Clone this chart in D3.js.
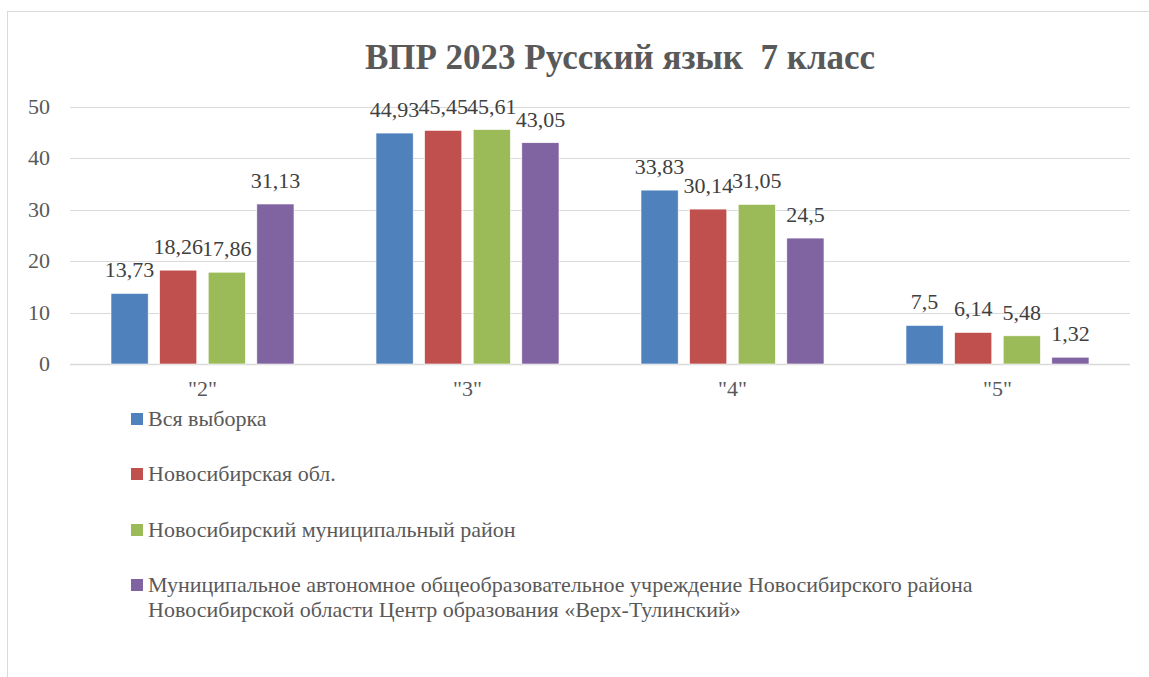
<!DOCTYPE html>
<html>
<head>
<meta charset="utf-8">
<script src="https://cdn.jsdelivr.net/npm/d3@7"></script>
<style>
  body { margin: 0; background: #fff; }
</style>
</head>
<body>
<div id="chart"></div>
<script>
// categories (marks) and series
const categories = ['"2"', '"3"', '"4"', '"5"'];
const seriesNames = [
  "Вся выборка",
  "Новосибирская обл.",
  "Новосибирский муниципальный район",
  "Муниципальное автономное общеобразовательное учреждение Новосибирского района|Новосибирской области Центр образования «Верх-Тулинский»"
];
const vsyaVyborka = [13.73, 44.93, 33.83, 7.5];
const novosibObl = [18.26, 45.45, 30.14, 6.14];
const novosibRayon = [17.86, 45.61, 31.05, 5.48];
const verhTulinsky = [31.13, 43.05, 24.5, 1.32];
const yTicks = [0, 10, 20, 30, 40, 50];
const colors = ["#4f81bd", "#c0504d", "#9bbb59", "#8064a2"];

const series = [vsyaVyborka, novosibObl, novosibRayon, verhTulinsky];

const W = 1149, H = 677;
const FONT = "Liberation Serif";
const FS = "22px";
const fmt = v => String(v).replace(".", ",");

const svg = d3.select("#chart").append("svg")
  .attr("width", W).attr("height", H);

// outer chart frame
svg.append("rect")
  .attr("x", 7.5).attr("y", 11.5)
  .attr("width", 1160).attr("height", 700)
  .attr("fill", "#fff").attr("stroke", "#d9d9d9");

// title
svg.append("text")
  .attr("x", 620).attr("y", 69)
  .attr("text-anchor", "middle")
  .attr("font-family", FONT)
  .attr("font-size", "35px").attr("font-weight", "bold")
  .attr("fill", "#595959")
  .attr("xml:space", "preserve")
  .style("white-space", "pre")
  .text("ВПР 2023 Русский язык  7 класс");

const plot = { left: 70, right: 1130, top: 107, bottom: 364 };

const y = d3.scaleLinear().domain([0, 50]).range([plot.bottom, plot.top]);
const x0 = d3.scaleBand().domain(categories).range([plot.left, plot.right]);
const x1 = d3.scaleBand().domain(d3.range(series.length))
  .range([41, x0.bandwidth() - 41]).paddingInner(0.235);

// gridlines
svg.append("g").selectAll("line")
  .data(yTicks).join("line")
  .attr("x1", plot.left).attr("x2", plot.right)
  .attr("y1", d => Math.round(y(d)) + 0.5).attr("y2", d => Math.round(y(d)) + 0.5)
  .attr("stroke", "#d9d9d9").attr("stroke-width", d => d === 0 ? 1.5 : 1.2);

// y tick labels
svg.append("g").selectAll("text")
  .data(yTicks).join("text")
  .attr("x", 50).attr("y", d => y(d) + 7)
  .attr("text-anchor", "end")
  .attr("font-family", FONT)
  .attr("font-size", FS).attr("fill", "#595959")
  .text(d => d);

// category labels
svg.append("g").selectAll("text")
  .data(categories).join("text")
  .attr("x", d => x0(d) + x0.bandwidth() / 2)
  .attr("y", 396)
  .attr("text-anchor", "middle")
  .attr("font-family", FONT)
  .attr("font-size", FS).attr("fill", "#595959")
  .text(d => d);

// bars
const groups = svg.append("g").selectAll("g")
  .data(categories).join("g")
  .attr("transform", d => `translate(${x0(d)},0)`);

const cells = groups.selectAll("g")
  .data((c, ci) => series.map((s, si) => ({ si, v: s[ci] })))
  .join("g");

cells.append("rect")
  .attr("x", d => x1(d.si))
  .attr("width", x1.bandwidth())
  .attr("y", d => y(d.v))
  .attr("height", d => y(0) - y(d.v))
  .attr("fill", d => colors[d.si])
  .attr("stroke", "#fff").attr("stroke-width", 0.6);

cells.append("text")
  .attr("x", d => x1(d.si) + x1.bandwidth() / 2)
  .attr("y", d => y(d.v) - 16)
  .attr("text-anchor", "middle")
  .attr("font-family", FONT)
  .attr("font-size", FS).attr("fill", "#404040")
  .text(d => fmt(d.v));

// legend
const legendY = [419, 474, 530, 585];
const legend = svg.append("g").selectAll("g")
  .data(seriesNames).join("g")
  .attr("transform", (d, i) => `translate(131,${legendY[i]})`);

legend.append("rect")
  .attr("x", 0).attr("y", -6)
  .attr("width", 12).attr("height", 12)
  .attr("fill", (d, i) => colors[i]);

legend.each(function(d) {
  d.split("|").forEach((line, i) => {
    d3.select(this).append("text")
      .attr("x", 17).attr("y", i * 25 + 7)
      .attr("font-family", FONT)
      .attr("font-size", FS).attr("fill", "#595959")
      .text(line);
  });
});
</script>
</body>
</html>
